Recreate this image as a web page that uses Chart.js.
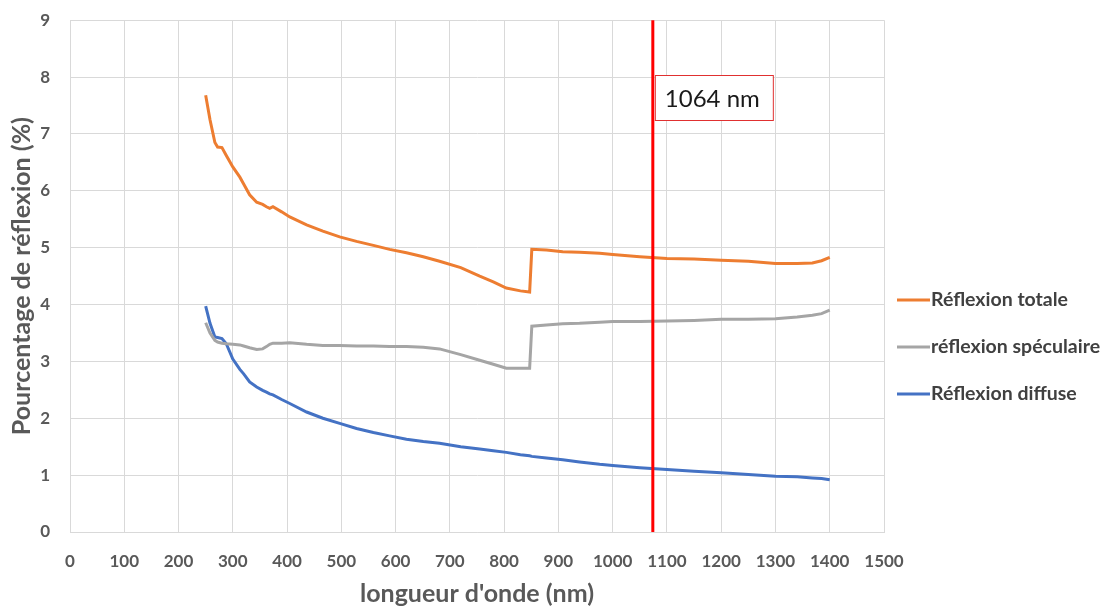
<!DOCTYPE html>
<html><head><meta charset="utf-8">
<script src="https://cdn.jsdelivr.net/npm/chart.js@4/dist/chart.umd.min.js"></script>
<style>html,body{margin:0;padding:0;background:#fff}#wrap{width:1102px;height:606px;position:relative;overflow:hidden}#c{position:absolute;left:0;top:-10px}</style>
</head><body><div id="wrap"><canvas id="c" width="1102" height="616"></canvas></div>
<script>
const wavelengths = [250,258,267,272,280,288,300,313,320,331,344,355,362,368,374,390,405,436,466,497,528,559,589,620,651,681,720,755,780,804,830,847,851,878,908,939,976,1000,1050,1100,1150,1200,1250,1300,1340,1368,1385,1400];
const totale = [7.68,7.25,6.85,6.77,6.76,6.62,6.42,6.24,6.12,5.93,5.80,5.76,5.72,5.69,5.72,5.63,5.54,5.40,5.29,5.19,5.11,5.04,4.97,4.91,4.84,4.76,4.65,4.50,4.40,4.29,4.24,4.22,4.97,4.96,4.93,4.92,4.90,4.88,4.84,4.81,4.80,4.78,4.76,4.72,4.72,4.73,4.77,4.83];
const speculaire = [3.68,3.50,3.37,3.34,3.32,3.31,3.30,3.29,3.27,3.24,3.21,3.22,3.26,3.30,3.32,3.32,3.33,3.30,3.28,3.28,3.27,3.27,3.26,3.26,3.25,3.22,3.12,3.02,2.95,2.88,2.88,2.88,3.62,3.64,3.66,3.67,3.69,3.70,3.70,3.71,3.72,3.74,3.74,3.75,3.78,3.81,3.84,3.90];
const diffuse = [3.97,3.67,3.43,3.42,3.40,3.31,3.04,2.86,2.78,2.64,2.55,2.49,2.46,2.43,2.41,2.33,2.26,2.11,2.00,1.91,1.82,1.75,1.69,1.63,1.59,1.56,1.50,1.46,1.43,1.40,1.36,1.34,1.33,1.30,1.27,1.23,1.19,1.17,1.13,1.10,1.07,1.04,1.01,0.98,0.97,0.95,0.94,0.92];
const seriesNames = ["Réflexion totale","réflexion spéculaire","Réflexion diffuse"];
const seriesColors = ["#ED7D31","#A5A5A5","#4472C4"];
const markerWavelength = 1074;
const markerLabel = "1064 nm";
const xTitle = "longueur d'onde (nm)";
const yTitle = "Pourcentage de réflexion (%)";

const FONT = "Lato, 'Open Sans', sans-serif";
const OFF = 10; // canvas is shifted up by this many pixels
const toPts = arr => wavelengths.map((w,i)=>({x:w,y:arr[i]}));

const overlay = {
  id:'overlay',
  afterDatasetsDraw(chart){
    const ctx = chart.ctx, xs = chart.scales.x, a = chart.chartArea;
    const px = xs.getPixelForValue(markerWavelength);
    ctx.save();
    ctx.strokeStyle = '#FF0000'; ctx.lineWidth = 3;
    ctx.beginPath(); ctx.moveTo(px, a.top); ctx.lineTo(px, a.bottom); ctx.stroke();
    ctx.fillStyle = '#fff';
    ctx.fillRect(px+2, 75+OFF, 118, 45);
    ctx.strokeStyle = '#E03030'; ctx.lineWidth = 1;
    ctx.strokeRect(px+2.5, 75.5+OFF, 118, 45);
    ctx.fillStyle = '#1a1a1a';
    ctx.font = "24px " + FONT;
    ctx.textBaseline = 'middle'; ctx.textAlign = 'left';
    ctx.fillText(markerLabel, px+12, 99+OFF);
    const ys = [300,347,394];
    ctx.font = "bold 19.5px " + FONT;
    seriesNames.forEach((n,i)=>{
      ctx.strokeStyle = seriesColors[i]; ctx.lineWidth = 3;
      ctx.beginPath(); ctx.moveTo(897, ys[i]+OFF); ctx.lineTo(930, ys[i]+OFF); ctx.stroke();
      ctx.fillStyle = '#404040';
      ctx.fillText(n, 931, ys[i]+OFF);
    });
    ctx.restore();
  }
};

new Chart(document.getElementById('c'), {
  type:'line',
  data:{datasets:[
    {label:seriesNames[0], data:toPts(totale), borderColor:seriesColors[0], borderWidth:3, pointRadius:0, tension:0, fill:false},
    {label:seriesNames[1], data:toPts(speculaire), borderColor:seriesColors[1], borderWidth:3, pointRadius:0, tension:0, fill:false},
    {label:seriesNames[2], data:toPts(diffuse), borderColor:seriesColors[2], borderWidth:3, pointRadius:0, tension:0, fill:false}
  ]},
  options:{
    responsive:false, animation:false,
    layout:{padding:{left:0,right:218,top:20,bottom:0}},
    plugins:{legend:{display:false}, tooltip:{enabled:false}},
    scales:{
      x:{type:'linear', min:0, max:1500,
        ticks:{stepSize:100, color:'#595959', font:{family:FONT, size:17, weight:'bold'}, padding:19, maxRotation:0, callback:v=>String(v)},
        grid:{color:'#D9D9D9', drawTicks:false, lineWidth:1},
        border:{color:'#D9D9D9'},
        title:{display:true, text:xTitle, color:'#595959', font:{family:FONT, size:25, weight:'bold'}, padding:{top:0,bottom:-3}},
        afterFit(s){ s.height = 74; }
      },
      y:{min:0, max:9,
        ticks:{stepSize:1, color:'#595959', font:{family:FONT, size:17, weight:'bold'}, padding:20, callback:v=>String(v)},
        grid:{color:'#D9D9D9', drawTicks:false, lineWidth:1},
        border:{color:'#D9D9D9'},
        title:{display:true, text:yTitle, color:'#595959', font:{family:FONT, size:25, weight:'bold'}, padding:{top:7,bottom:0}},
        afterFit(s){ s.width = 70; }
      }
    }
  },
  plugins:[overlay]
});
</script></body></html>
